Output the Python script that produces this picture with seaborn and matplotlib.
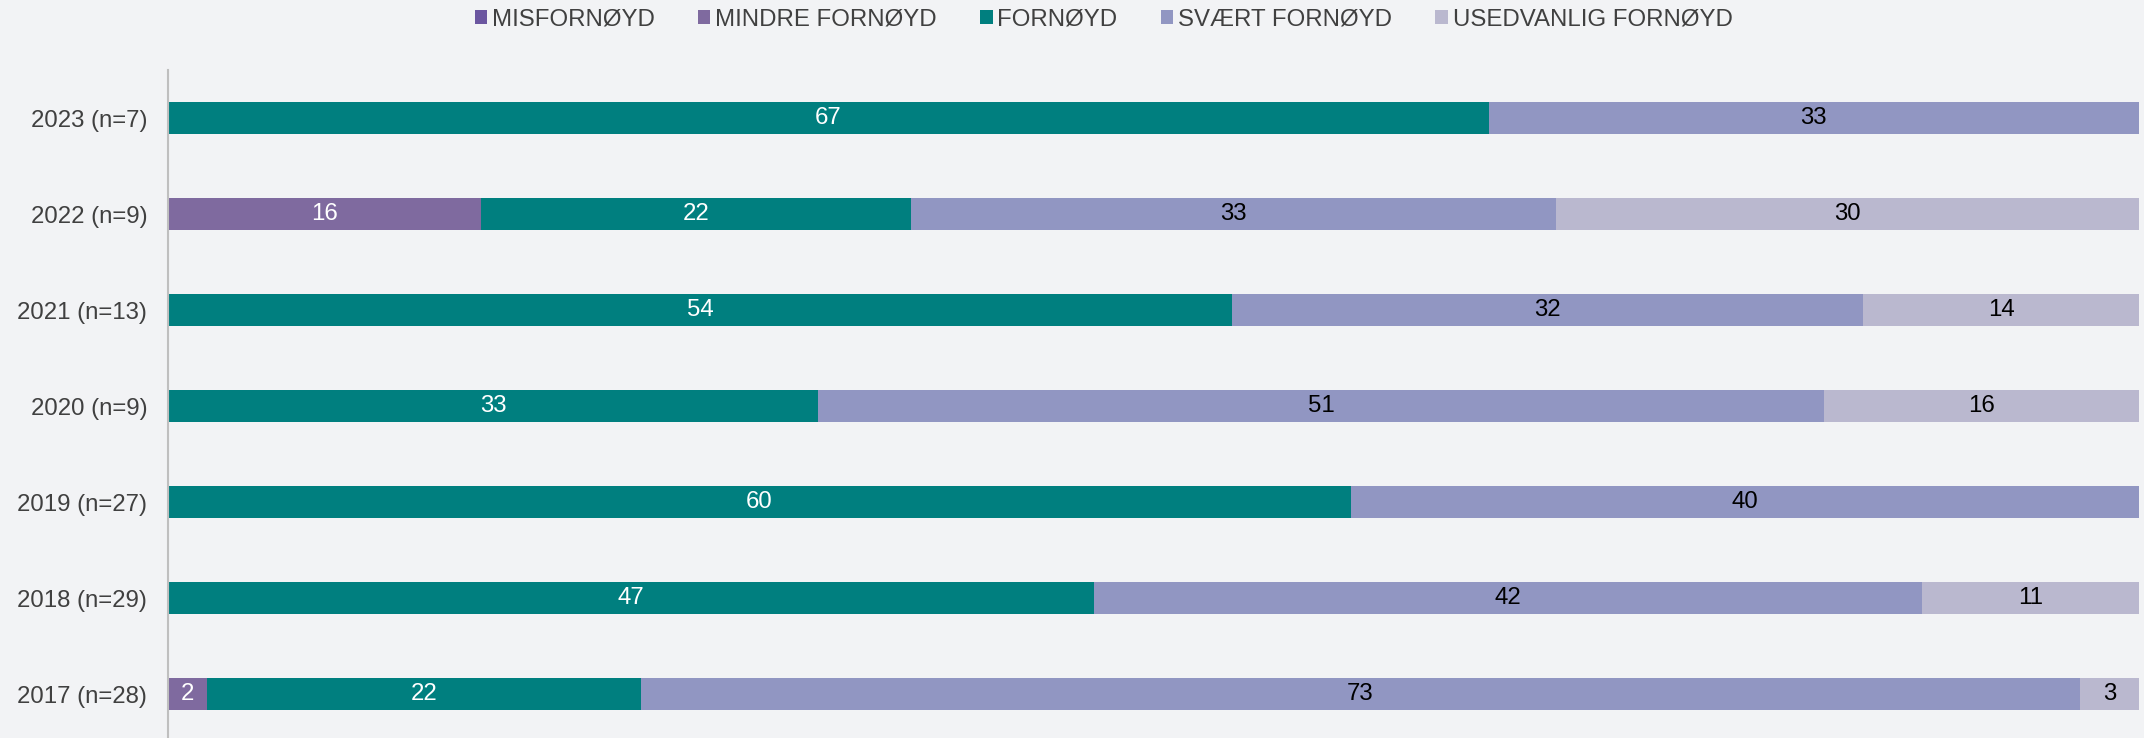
import matplotlib
matplotlib.use("Agg")
import matplotlib.pyplot as plt
from matplotlib.patches import Patch
import seaborn as sns
import pandas as pd
import numpy as np

categories = ["2023 (n=7)", "2022 (n=9)", "2021 (n=13)", "2020 (n=9)",
              "2019 (n=27)", "2018 (n=29)", "2017 (n=28)"]
series = ["MISFORNØYD", "MINDRE FORNØYD", "FORNØYD", "SVÆRT FORNØYD", "USEDVANLIG FORNØYD"]
misfornoyd = [0, 0, 0, 0, 0, 0, 0]
mindre = [0, 15.9, 0, 0, 0, 0, 2]
fornoyd = [67, 21.8, 54, 33, 60, 47, 22]
svaert = [33, 32.7, 32, 51, 40, 42, 73]
usedvanlig = [0, 29.6, 14, 16, 0, 11, 3]

colors = ["#6B56A0", "#7F6A9F", "#007F7F", "#9196C2", "#BAB8CF"]
label_colors = ["white", "white", "white", "black", "black"]
bg = "#F2F3F5"
fs = 17.3

values = np.array([misfornoyd, mindre, fornoyd, svaert, usedvanlig])
cum = np.cumsum(values, axis=0)

sns.set_theme(style="white")
plt.rcParams["font.family"] = ["Liberation Sans", "DejaVu Sans"]

fig = plt.figure(figsize=(21.44, 7.38), dpi=100, facecolor=bg)
ax = fig.add_axes([168 / 2144, 0, (2139 - 168) / 2144, 668 / 738])
ax.set_facecolor(bg)

# draw cumulative layers from the last series to the first so earlier overlap
for i in range(len(series) - 1, -1, -1):
    df = pd.DataFrame({"cat": categories, "val": cum[i]})
    sns.barplot(data=df, x="val", y="cat", orient="h", color=colors[i],
                width=0.333, linewidth=0, saturation=1, ax=ax, order=categories)

for i in range(len(series)):
    for j, cat in enumerate(categories):
        v = values[i, j]
        if v > 0:
            xc = cum[i, j] - v / 2
            ax.text(xc, j, f"{v:.0f}", ha="center", va="center",
                    color=label_colors[i], fontsize=fs)

ax.set_xlim(0, 100)
ax.set_ylim(-0.5 + 668 / 96, -0.5)
ax.set_xlabel("")
ax.set_ylabel("")
ax.set_xticks([])
ax.tick_params(axis="y", length=0, labelsize=fs, labelcolor="#404040", pad=15)
for s in ["top", "right", "bottom"]:
    ax.spines[s].set_visible(False)
ax.spines["left"].set_color("#BFBFBF")
ax.spines["left"].set_linewidth(1.5)

handles = [Patch(facecolor=c, edgecolor="none", label=s) for s, c in zip(series, colors)]
fig.legend(handles=handles, loc="center", bbox_to_anchor=(0.5147, 1 - 20 / 738), ncol=5,
           frameon=False, fontsize=fs, handlelength=0.52, handleheight=0.52,
           handletextpad=0.2, columnspacing=1.8, labelcolor="#404040")

fig.savefig("out.png", dpi=100, facecolor=bg)
